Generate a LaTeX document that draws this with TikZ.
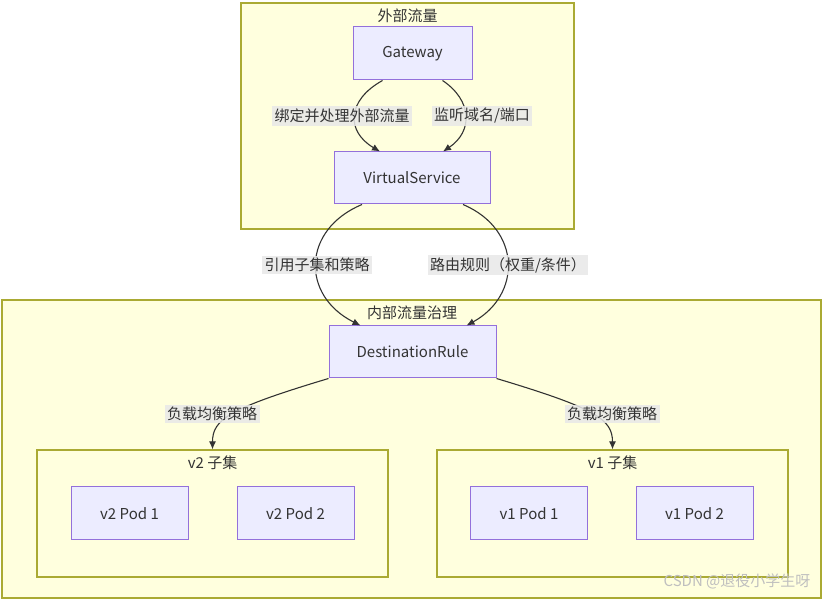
\documentclass[tikz,border=0pt]{standalone}
\usepackage{fontspec}
\setmainfont{Noto Sans CJK SC}
\usetikzlibrary{arrows.meta}
\definecolor{nodefill}{HTML}{ECECFF}
\definecolor{nodestroke}{HTML}{9370DB}
\definecolor{clfill}{HTML}{FFFFDE}
\definecolor{clstroke}{HTML}{AAAA33}
\definecolor{txt}{HTML}{333333}
\definecolor{lblbg}{HTML}{E8E8E8}
\tikzset{
  box/.style={draw=nodestroke, fill=nodefill, line width=1pt, inner sep=0pt, text=txt,
    font=\fontsize{15}{18}\selectfont},
  cluster/.style={draw=clstroke, fill=clfill, line width=1.2pt, inner sep=0pt},
  cltitle/.style={text=txt, inner sep=0pt, font=\fontsize{15}{18}\selectfont},
  elabel/.style={fill=lblbg, fill opacity=0.85, text opacity=1, text=txt, inner sep=2.5pt,
    font=\fontsize{15}{18}\selectfont},
  edge/.style={draw=txt, line width=1.1pt, -{Latex[length=8pt,width=7pt]}},
}
\begin{document}
\begin{tikzpicture}[x=1pt,y=-1pt]
\useasboundingbox (0,0) rectangle (823,601);
% clusters
\node[cluster, minimum width=333pt, minimum height=226pt] (ext) at (407.5,116) {};
\node[cltitle] (exttitle) at (407.5,16) {外部流量};
\node[cluster, minimum width=819pt, minimum height=298pt] (int) at (411.5,449) {};
\node[cltitle] (inttitle) at (412,313) {内部流量治理};
\node[cluster, minimum width=351pt, minimum height=127pt] (v2) at (212.5,513.5) {};
\node[cltitle] (v2title) at (212.5,463) {v2 子集};
\node[cluster, minimum width=351pt, minimum height=127pt] (v1) at (612.5,513.5) {};
\node[cltitle] (v1title) at (612.5,463) {v1 子集};
% nodes
\node[box, minimum width=119pt, minimum height=53pt] (gw) at (412.5,53.5) {Gateway};
\node[box, minimum width=156pt, minimum height=52pt] (vs) at (412,178) {VirtualService};
\node[box, minimum width=167pt, minimum height=52pt] (dr) at (412.5,352) {DestinationRule};
\node[box, minimum width=117pt, minimum height=53pt] (p21) at (129.5,513.5) {v2 Pod 1};
\node[box, minimum width=117pt, minimum height=53pt] (p22) at (295.5,513.5) {v2 Pod 2};
\node[box, minimum width=117pt, minimum height=53pt] (p11) at (529,513.5) {v1 Pod 1};
\node[box, minimum width=117pt, minimum height=53pt] (p12) at (694.5,513.5) {v1 Pod 2};
% edges
\draw[edge] ([xshift=-30pt]gw.south) .. controls +(-36,20) and +(-34,-20) .. ([xshift=-32pt]vs.north);
\draw[edge] ([xshift=30pt]gw.south) .. controls +(30,20) and +(30,-20) .. ([xshift=31pt]vs.north);
\draw[edge] ([xshift=-50pt]vs.south) .. controls +(-60,25) and +(-60,-30) .. ([xshift=-52pt]dr.north);
\draw[edge] ([xshift=51pt]vs.south) .. controls +(59,25) and +(55,-30) .. ([xshift=54pt]dr.north);
\draw[edge] (dr.south west) .. controls +(-100,30) and +(0,-30) .. (v2.north);
\draw[edge] (dr.south east) .. controls +(100,30) and +(0,-30) .. (v1.north);
% edge labels
\node[elabel] (l1) at (342,116) {绑定并处理外部流量};
\node[elabel] (l2) at (482,116) {监听域名/端口};
\node[elabel] (l3) at (317,265) {引用子集和策略};
\node[elabel] (l4) at (508,265) {路由规则（权重/条件）};
\node[elabel] (l5) at (212,414) {负载均衡策略};
\node[elabel] (l6) at (612,414) {负载均衡策略};
% watermark
\node[text=black!25, inner sep=0pt, font=\fontsize{15}{18}\selectfont] (wm) at (737,581) {CSDN @退役小学生呀};
\end{tikzpicture}
\end{document}
